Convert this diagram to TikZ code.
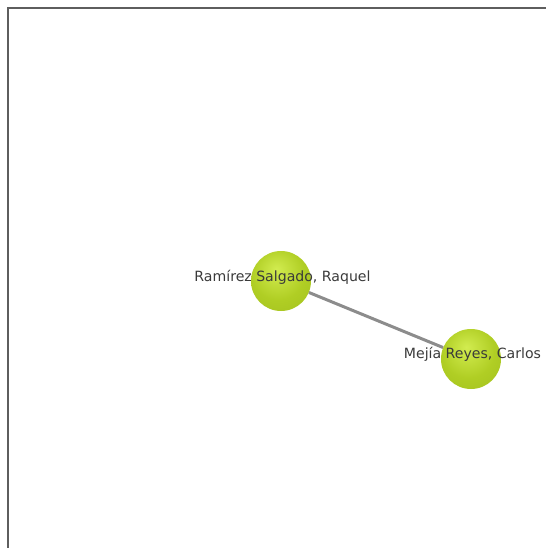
\documentclass[tikz,border=0pt]{standalone}
\usepackage{fontspec}
\setmainfont{DejaVu Sans}
\usetikzlibrary{positioning}
\definecolor{uzelS}{HTML}{D2EC50}
\definecolor{uzel}{HTML}{B0CE24}
\definecolor{uzelK}{HTML}{6E8A0C}
\definecolor{popis}{HTML}{3A3A3A}
\definecolor{hrana}{HTML}{8C8C8C}
\definecolor{ramecek}{HTML}{5E5E5E}
% koule: svetlejsi stred mirne nahore, tmavsi okraj
\pgfdeclareradialshading{koule}{\pgfpoint{-4bp}{10bp}}{color(0bp)=(uzelS); color(22bp)=(uzel); color(40bp)=(uzel!80!uzelK); color(52bp)=(uzelK); color(60bp)=(uzelK)}

\begin{document}
\begin{tikzpicture}[x=1pt,y=-1pt,
    osoba/.style={circle,minimum size=60pt,inner sep=0pt,shading=koule},
    jmeno/.style={font=\fontsize{14.1}{16}\selectfont,text=popis,inner sep=0pt},
    vazba/.style={draw=hrana,line width=3pt}]
  \useasboundingbox (0,0) rectangle (546,548);
  % ramecek jen vlevo a nahore
  \draw[ramecek,line width=2.2pt] (8,548) -- (8,8) -- (546,8);
  % uzly site
  \node[osoba] (ramirez) at (281,281) {};
  \node[osoba] (mejia) at (471,359) {};
  \draw[vazba] (ramirez) -- (mejia);
  % popisky lezi pres koule
  \node[jmeno] (ramirezT) at (282.5,277) {Ramírez Salgado, Raquel};
  \node[jmeno] (mejiaT) at (472.5,354) {Mejía Reyes, Carlos};
\end{tikzpicture}
\end{document}
